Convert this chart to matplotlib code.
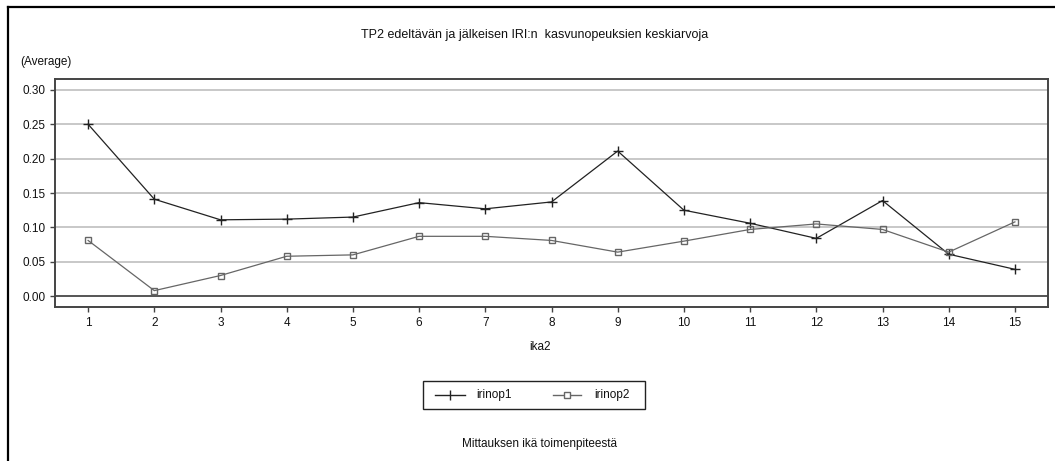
import matplotlib
matplotlib.use("Agg")
import matplotlib.pyplot as plt
from matplotlib.lines import Line2D
from matplotlib.patches import Rectangle

plt.rcParams['font.family'] = ['Liberation Sans', 'DejaVu Sans']

# Measurement age (years since treatment)
ika2 = list(range(1, 16))
irinop1 = [0.250, 0.141, 0.111, 0.112, 0.115, 0.136, 0.127, 0.137, 0.211,
           0.125, 0.106, 0.084, 0.139, 0.061, 0.039]
irinop2 = [0.081, 0.008, 0.030, 0.058, 0.060, 0.087, 0.087, 0.081, 0.064,
           0.080, 0.097, 0.105, 0.097, 0.064, 0.108]
y_ticks = [0.00, 0.05, 0.10, 0.15, 0.20, 0.25, 0.30]
y_tick_labels = ["0.00", "0.05", "0.10", "0.15", "0.20", "0.25", "0.30"]

title = "TP2 edeltävän ja jälkeisen IRI:n  kasvunopeuksien keskiarvoja"
ylabel = "(Average)"
xlabel = "ika2"
footer = "Mittauksen ikä toimenpiteestä"

W, H = 1055, 461
fig = plt.figure(figsize=(W / 100, H / 100), dpi=100)
fig.patch.set_facecolor("white")

# Outer frame (left and top edges visible)
fig.add_artist(Line2D([8 / W, 8 / W], [0, 1 - 7 / H], transform=fig.transFigure,
                      color="black", lw=1.6))
fig.add_artist(Line2D([8 / W, 1], [1 - 7 / H, 1 - 7 / H], transform=fig.transFigure,
                      color="black", lw=1.6))

left, right, top, bottom = 55, 1048, 79, 307
ax = fig.add_axes([left / W, 1 - bottom / H, (right - left) / W, (bottom - top) / H])

ax.set_xlim(0.5, 15.5)
ax.set_ylim(-0.0158, 0.3158)

for y in y_ticks[1:]:
    ax.axhline(y, color="#c8c8c8", lw=1.4, zorder=1)
ax.axhline(0.0, color="#555555", lw=1.4, zorder=1)

ax.plot(ika2, irinop1, color="#222222", lw=0.9, marker="+", markersize=6.5,
        markeredgewidth=1.0, zorder=3)
ax.plot(ika2, irinop2, color="#666666", lw=0.9, marker="s", markersize=5,
        markerfacecolor="none", markeredgecolor="#666666", markeredgewidth=1.0,
        zorder=3)

ax.set_xticks(ika2)
ax.set_xticklabels([str(v) for v in ika2])
ax.set_yticks(y_ticks)
ax.set_yticklabels(y_tick_labels)
ax.tick_params(axis="both", direction="out", length=3.5, width=1, color="#444444",
               labelsize=8.5, labelcolor="#111111")
ax.tick_params(axis="x", pad=4)
ax.tick_params(axis="y", pad=3)
for s in ax.spines.values():
    s.set_color("#444444")
    s.set_linewidth(1.4)

fig.text(535 / W, 1 - 35 / H, title, ha="center", va="center", fontsize=9,
         color="#111111")
fig.text(20 / W, 1 - 62 / H, ylabel, ha="left", va="center", fontsize=8.5,
         color="#111111")
fig.text(540 / W, 1 - 347 / H, xlabel, ha="center", va="center", fontsize=8.5,
         color="#111111")
fig.text(540 / W, 1 - 444 / H, footer, ha="center", va="center", fontsize=8.5,
         color="#111111")

# Legend box
lx0, lx1, ly0, ly1 = 423, 645, 381, 409
fig.add_artist(Rectangle((lx0 / W, 1 - ly1 / H), (lx1 - lx0) / W, (ly1 - ly0) / H,
                         transform=fig.transFigure, fill=False, edgecolor="#222222",
                         lw=1.0))
ly = 1 - 395 / H
fig.add_artist(Line2D([435 / W, 465 / W], [ly, ly], transform=fig.transFigure,
                      color="#222222", lw=1.0))
fig.add_artist(Line2D([450 / W], [ly], transform=fig.transFigure, color="#222222",
                      marker="|", markersize=7, markeredgewidth=1.0, linestyle="none"))
fig.text(476 / W, ly, "irinop1", ha="left", va="center", fontsize=8.5, color="#111111")
fig.add_artist(Line2D([553 / W, 581 / W], [ly, ly], transform=fig.transFigure,
                      color="#666666", lw=1.0))
fig.add_artist(Line2D([567 / W], [ly], transform=fig.transFigure, color="#666666",
                      marker="s", markersize=5, markerfacecolor="white",
                      markeredgecolor="#666666", markeredgewidth=1.0, linestyle="none"))
fig.text(594 / W, ly, "irinop2", ha="left", va="center", fontsize=8.5, color="#111111")

fig.savefig("out.png", dpi=100, facecolor="white")
